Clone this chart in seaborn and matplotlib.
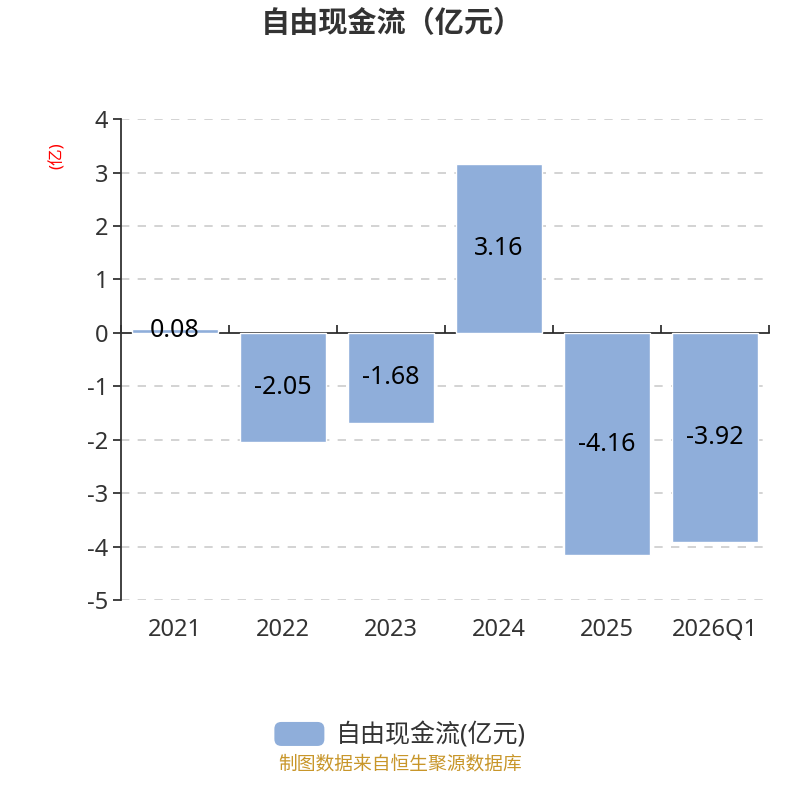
import pandas as pd
import matplotlib.pyplot as plt
import seaborn as sns
from matplotlib.patches import Patch, FancyBboxPatch
from matplotlib.legend_handler import HandlerPatch

# chart data
years = ['2021', '2022', '2023', '2024', '2025', '2026Q1']
values = [0.08, -2.05, -1.68, 3.16, -4.16, -3.92]
series_name = '自由现金流(亿元)'
y_ticks = [4, 3, 2, 1, 0, -1, -2, -3, -4, -5]

df = pd.DataFrame({'year': years, 'value': values})

sns.set_theme(style="white")
plt.rcParams['font.family'] = ['Noto Sans', 'Noto Sans CJK SC', 'DejaVu Sans']
plt.rcParams['axes.unicode_minus'] = False

bar_color = '#8FAEDA'
text_color = '#333333'


class RoundHandler(HandlerPatch):
    def create_artists(self, legend, orig_handle, xdescent, ydescent,
                       width, height, fontsize, trans):
        p = FancyBboxPatch((-xdescent, -ydescent), width, height,
                           boxstyle='round,pad=0,rounding_size=5',
                           facecolor=orig_handle.get_facecolor(),
                           edgecolor='none', transform=trans)
        return [p]


fig = plt.figure(figsize=(8, 8), dpi=100)
ax = fig.add_axes([0.151, 0.25, 0.81, 0.601])

sns.barplot(data=df, x='year', y='value', color=bar_color, width=0.8,
            saturation=1, ax=ax, zorder=2)

ax.set_ylim(-5, 4)
ax.set_xlim(-0.5, len(years) - 0.5)
ax.set_yticks(y_ticks)
ax.set_yticklabels([str(t) for t in y_ticks])

# dashed grid
for t in y_ticks:
    if t != 0:
        ax.axhline(t, color='#cccccc', linestyle=(0, (5, 5)), linewidth=1.2, zorder=0)

# spines
for s in ['top', 'right', 'bottom']:
    ax.spines[s].set_visible(False)
ax.spines['left'].set_color(text_color)
ax.spines['left'].set_linewidth(1.3)

ax.tick_params(axis='y', length=6, width=1.3, color=text_color,
               labelsize=17, labelcolor=text_color, direction='out', left=True, pad=3)
ax.tick_params(axis='x', length=0, labelsize=17, labelcolor=text_color, pad=13)
ax.set_xlabel('')
ax.set_ylabel('(亿)', color='red', fontsize=12)
ax.yaxis.set_label_coords(-0.085, 0.925)

# zero axis with category boundary ticks
zero_ax = ax.secondary_xaxis(5 / 9)
zero_ax.set_xticks([i - 0.5 for i in range(len(years) + 1)])
zero_ax.set_xticklabels([])
zero_ax.tick_params(axis='x', length=6, width=1.3, color=text_color, direction='out')
zero_ax.spines['bottom'].set_color(text_color)
zero_ax.spines['bottom'].set_linewidth(1.3)

# data labels
ax.bar_label(ax.containers[0], labels=[f'{v:.2f}' for v in values],
             label_type='center', fontsize=18, color='black')

fig.suptitle('自由现金流（亿元）', x=0.49, y=0.988, fontsize=21, fontweight='bold',
             color=text_color)

# legend
handle = Patch(facecolor=bar_color, edgecolor='none', label=series_name)
fig.legend(handles=[handle], loc='center', bbox_to_anchor=(0.5, 0.081),
           frameon=False, fontsize=18, handlelength=2.0, handleheight=1.1,
           handletextpad=0.45, labelcolor=text_color,
           handler_map={Patch: RoundHandler()})

fig.text(0.5, 0.045, '制图数据来自恒生聚源数据库', ha='center', va='center',
         fontsize=13.5, color='#C8962A')

fig.savefig('out.png', dpi=100)
